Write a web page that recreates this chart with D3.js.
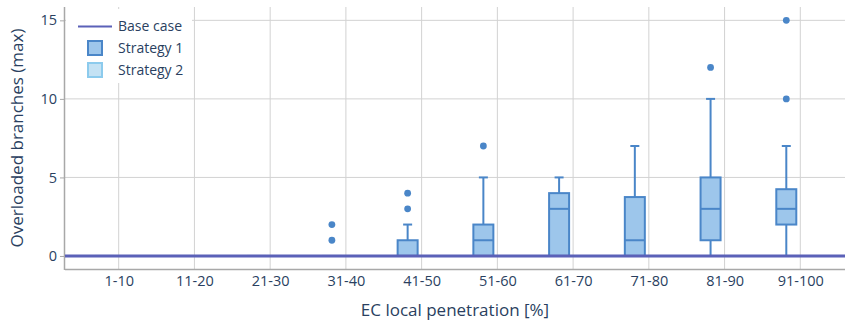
<!DOCTYPE html>
<html>
<head>
<meta charset="utf-8">
<script src="https://cdn.jsdelivr.net/npm/d3@7/dist/d3.min.js"></script>
<style>
  body { margin: 0; background: #fff; }
  text { font-family: 'Open Sans', sans-serif; fill: #2a3f5f; }
</style>
</head>
<body>
<div id="chart"></div>
<script>
// DATA (Strategy 1 box statistics per penetration bin)
const categories = ["1-10", "11-20", "21-30", "31-40", "41-50", "51-60", "61-70", "71-80", "81-90", "91-100"];
const lowerFence = [0, 0, 0, 0, 0, 0, 0, 0, 0, 0];
const q1 = [0, 0, 0, 0, 0, 0, 0, 0, 1, 2];
const median = [0, 0, 0, 0, 0, 1, 3, 1, 3, 3];
const q3 = [0, 0, 0, 0, 1, 2, 4, 3.75, 5, 4.25];
const upperFence = [0, 0, 0, 0, 2, 5, 5, 7, 10, 7];
const outliers = [[], [], [], [1, 2], [3, 4], [7], [], [], [12], [10, 15]];
const baseCase = [0, 0, 0, 0, 0, 0, 0, 0, 0, 0];
const yTicks = [0, 5, 10, 15];

const width = 845,
	height = 322;

const svg = d3.select("#chart").append("svg").attr("width", width).attr("height", height);

const plotLeft = 65,
	plotRight = 845,
	plotTop = 7,
	plotBottom = 269;

//SCALES
const x = d3.scalePoint().domain(categories).range([118.7, 800.3]);
const y = d3.scaleLinear().domain([-0.83, 15.85]).range([plotBottom, plotTop]);

const boxOffset = -14,
	boxWidth = 20,
	capWidth = 9;

const gridColor = "#d2d2d2";

//GRID
svg
	.append("g")
	.selectAll("line")
	.data(categories)
	.enter()
	.append("line")
	.attr("x1", d => x(d))
	.attr("x2", d => x(d))
	.attr("y1", plotTop)
	.attr("y2", plotBottom)
	.style("stroke", gridColor)
	.style("stroke-width", 1);

svg
	.append("g")
	.selectAll("line")
	.data(yTicks)
	.enter()
	.append("line")
	.attr("x1", plotLeft)
	.attr("x2", plotRight)
	.attr("y1", d => y(d))
	.attr("y2", d => y(d))
	.style("stroke", gridColor)
	.style("stroke-width", 1);

//AXES
const yAxis = d3.axisLeft(y).tickValues(yTicks).tickSize(5).tickPadding(3);
const yG = svg.append("g").attr("transform", `translate(${plotLeft},0)`).call(yAxis);
yG.select(".domain").remove();
yG.selectAll("line").style("stroke", "#a8a8a8");
yG.selectAll("text").style("font-size", "14.5px").style("fill", "#2a3f5f").style("font-family", "'Open Sans', sans-serif");

const xAxis = d3.axisBottom(x).tickSize(0).tickPadding(7);
const xG = svg.append("g").attr("transform", `translate(0,${plotBottom})`).call(xAxis);
xG.select(".domain").remove();
xG.selectAll("text").style("font-size", "14.5px").style("fill", "#2a3f5f").style("font-family", "'Open Sans', sans-serif");

svg
	.append("line")
	.attr("x1", plotLeft)
	.attr("x2", plotRight)
	.attr("y1", plotBottom + 0.5)
	.attr("y2", plotBottom + 0.5)
	.style("stroke", "#a8a8a8")
	.style("stroke-width", 1.5);
svg
	.append("line")
	.attr("x1", plotLeft - 0.5)
	.attr("x2", plotLeft - 0.5)
	.attr("y1", plotTop)
	.attr("y2", plotBottom + 1)
	.style("stroke", "#a8a8a8")
	.style("stroke-width", 1.5);

//AXIS TITLES
svg
	.append("text")
	.attr("x", (plotLeft + plotRight) / 2)
	.attr("y", 316)
	.attr("text-anchor", "middle")
	.style("font-size", "17px")
	.text("EC local penetration [%]");

svg
	.append("text")
	.attr("transform", `translate(23, ${(plotTop + plotBottom) / 2}) rotate(-90)`)
	.attr("text-anchor", "middle")
	.style("font-size", "17px")
	.text("Overloaded branches (max)");

//BOXES
const boxStroke = "#4a86c8",
	boxFill = "#9dc6eb";

const boxData = categories.map((c, i) => ({
	cat: c,
	lo: lowerFence[i],
	q1: q1[i],
	med: median[i],
	q3: q3[i],
	hi: upperFence[i],
	out: outliers[i],
}));

const boxes = svg
	.append("g")
	.selectAll("g")
	.data(boxData)
	.enter()
	.append("g")
	.attr("transform", d => `translate(${x(d.cat) + boxOffset},0)`);

// whiskers
boxes
	.append("line")
	.attr("y1", d => y(d.q3))
	.attr("y2", d => y(d.hi))
	.style("stroke", boxStroke)
	.style("stroke-width", 2);
boxes
	.append("line")
	.attr("y1", d => y(d.q1))
	.attr("y2", d => y(d.lo))
	.style("stroke", boxStroke)
	.style("stroke-width", 2);
boxes
	.filter(d => d.hi > d.q3)
	.append("line")
	.attr("x1", -capWidth / 2)
	.attr("x2", capWidth / 2)
	.attr("y1", d => y(d.hi))
	.attr("y2", d => y(d.hi))
	.style("stroke", boxStroke)
	.style("stroke-width", 2);

boxes
	.append("rect")
	.attr("x", -boxWidth / 2)
	.attr("width", boxWidth)
	.attr("y", d => y(d.q3))
	.attr("height", d => y(d.q1) - y(d.q3))
	.style("fill", boxFill)
	.style("stroke", boxStroke)
	.style("stroke-width", 2);

boxes
	.append("line")
	.attr("x1", -boxWidth / 2)
	.attr("x2", boxWidth / 2)
	.attr("y1", d => y(d.med))
	.attr("y2", d => y(d.med))
	.style("stroke", boxStroke)
	.style("stroke-width", 2);

boxes
	.selectAll("circle")
	.data(d => d.out)
	.enter()
	.append("circle")
	.attr("r", 3.4)
	.attr("cy", d => y(d))
	.style("fill", boxStroke);

//BASE CASE LINE
const line = d3
	.line()
	.x(d => d[0])
	.y(d => y(d[1]));
svg
	.append("path")
	.attr("d", line([[plotLeft, baseCase[0]], ...categories.map((c, i) => [x(c), baseCase[i]]), [plotRight, baseCase[baseCase.length - 1]]]))
	.style("fill", "none")
	.style("stroke", "#5b61b8")
	.style("stroke-width", 3);

//LEGEND
const legend = svg.append("g");
legend
	.append("rect")
	.attr("x", plotLeft + 1)
	.attr("y", 9)
	.attr("width", 126)
	.attr("height", 74)
	.style("fill", "#fff");

legend
	.append("line")
	.attr("x1", 78)
	.attr("x2", 112)
	.attr("y1", 26.5)
	.attr("y2", 26.5)
	.style("stroke", "#5b61b8")
	.style("stroke-width", 2);

const legendBoxes = [
	{ name: "Strategy 1", fill: "#9dc6eb", stroke: "#4a86c8", cy: 48 },
	{ name: "Strategy 2", fill: "#c4e2f4", stroke: "#8ccbed", cy: 70 },
];

legend
	.selectAll("rect.sw")
	.data(legendBoxes)
	.enter()
	.append("rect")
	.attr("class", "sw")
	.attr("x", 88)
	.attr("y", d => d.cy - 7)
	.attr("width", 14)
	.attr("height", 14)
	.style("fill", d => d.fill)
	.style("stroke", d => d.stroke)
	.style("stroke-width", 2);

legend
	.selectAll("text")
	.data([{ name: "Base case", cy: 26.5 }, ...legendBoxes])
	.enter()
	.append("text")
	.attr("x", 118)
	.attr("y", d => d.cy)
	.attr("dy", "0.35em")
	.style("font-size", "14px")
	.text(d => d.name);
</script>
</body>
</html>
